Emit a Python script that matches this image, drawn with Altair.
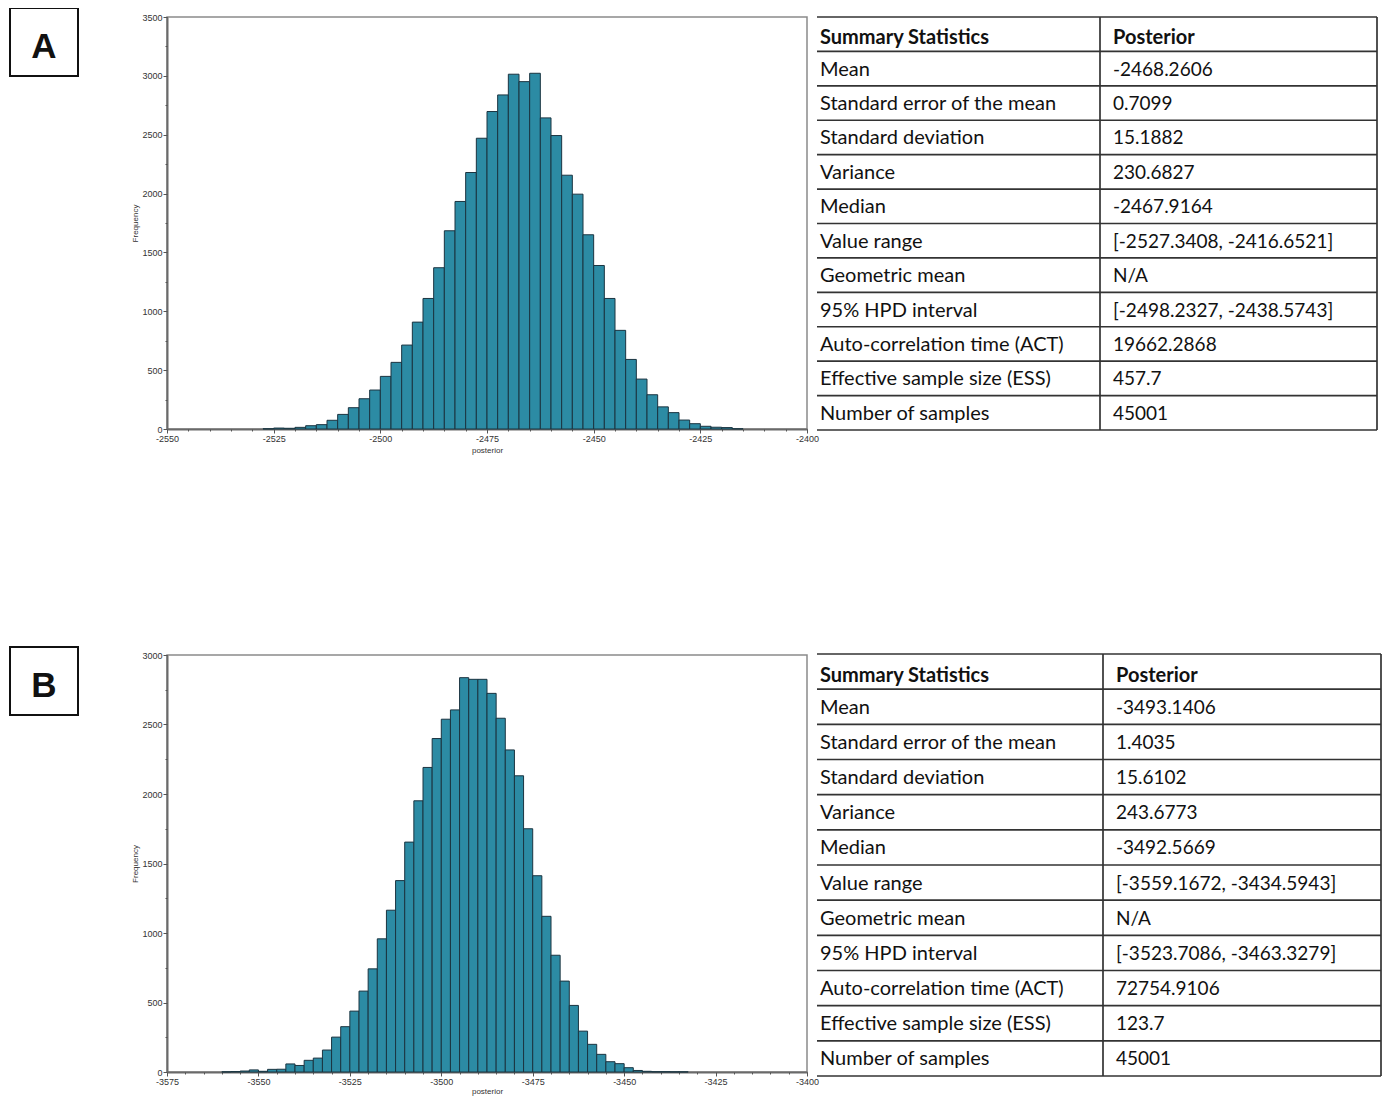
import altair as alt
import pandas as pd

# ---------------- data ----------------
BIN_WIDTH = 2.5

A_FIRST_BIN = -2527.5
A_COUNTS = [2, 8, 6, 14, 28, 37, 74, 124, 181, 257, 331, 447, 566, 713, 908, 1109,
            1370, 1684, 1933, 2179, 2470, 2697, 2838, 3014, 2951, 3022, 2643, 2493,
            2156, 1995, 1650, 1389, 1109, 838, 591, 424, 291, 188, 139, 76, 45, 23,
            15, 12, 2]

B_FIRST_BIN = -3560.0
B_COUNTS = [1, 3, 7, 15, 5, 19, 20, 58, 47, 84, 100, 158, 251, 326, 438, 582, 742,
            958, 1164, 1377, 1654, 1951, 2191, 2399, 2538, 2605, 2837, 2825, 2825,
            2724, 2545, 2317, 2131, 1750, 1412, 1120, 840, 654, 479, 294, 199, 127,
            74, 60, 31, 11, 5, 2, 2, 1, 1]

A_X_DOMAIN = [-2550, -2400]
A_Y_DOMAIN = [0, 3500]
B_X_DOMAIN = [-3575, -3400]
B_Y_DOMAIN = [0, 3000]

X_MAJOR_STEP = 25
X_MINOR_STEP = 5
Y_MAJOR_STEP = 500
Y_MINOR_STEP = 250

TABLE_HEADER = ["Summary Statistics", "Posterior"]
STAT_LABELS = [
    "Mean",
    "Standard error of the mean",
    "Standard deviation",
    "Variance",
    "Median",
    "Value range",
    "Geometric mean",
    "95% HPD interval",
    "Auto-correlation time (ACT)",
    "Effective sample size (ESS)",
    "Number of samples",
]
A_VALUES = [
    "-2468.2606",
    "0.7099",
    "15.1882",
    "230.6827",
    "-2467.9164",
    "[-2527.3408, -2416.6521]",
    "N/A",
    "[-2498.2327, -2438.5743]",
    "19662.2868",
    "457.7",
    "45001",
]
B_VALUES = [
    "-3493.1406",
    "1.4035",
    "15.6102",
    "243.6773",
    "-3492.5669",
    "[-3559.1672, -3434.5943]",
    "N/A",
    "[-3523.7086, -3463.3279]",
    "72754.9106",
    "123.7",
    "45001",
]

# ---------------- styles ----------------
BAR_FILL = "#2c8ba4"
BAR_STROKE = "#1b3440"
AXIS_FONT = "Liberation Sans"
TABLE_FONT = "Lato"
LABEL_SIZE = 20
VALUE_SIZE = 19
LINE_COLOR = "#333333"
LABEL_EXPR = "'' + datum.value"


def panel(letter, first_bin, counts, xdom, ydom, width, height,
          box_top, tbl_left, tbl_div, tbl_right, tbl_top, tbl_bottom, values,
          title_pad):
    starts = [first_bin + i * BIN_WIDTH for i in range(len(counts))]
    df = pd.DataFrame({"start": starts, "count": counts})
    df["end"] = df["start"] + BIN_WIDTH

    xs = alt.Scale(domain=xdom, nice=False, zero=False)
    ys = alt.Scale(domain=ydom, nice=False, zero=True)
    x_major = list(range(xdom[0], xdom[1] + 1, X_MAJOR_STEP))
    x_minor = list(range(xdom[0], xdom[1] + 1, X_MINOR_STEP))
    y_major = list(range(ydom[0], ydom[1] + 1, Y_MAJOR_STEP))
    y_minor = list(range(ydom[0], ydom[1] + 1, Y_MINOR_STEP))

    bars = alt.Chart(df).mark_rect(
        fill=BAR_FILL, stroke=BAR_STROKE, strokeWidth=1, opacity=1
    ).encode(
        x=alt.X("start:Q", scale=xs,
                axis=alt.Axis(values=x_major, title="posterior", orient="bottom",
                              grid=False, tickSize=4, labelPadding=1,
                              titlePadding=title_pad, labelFlush=False,
                              labelExpr=LABEL_EXPR)),
        x2="end:Q",
        y=alt.Y("count:Q", scale=ys,
                axis=alt.Axis(values=y_major, title="Frequency", orient="left",
                              grid=False, tickSize=4, labelPadding=1,
                              titlePadding=2, labelFlush=False,
                              labelExpr=LABEL_EXPR)),
        y2=alt.datum(0),
    )

    minor = alt.Chart(df).mark_point(opacity=0).encode(
        x=alt.X("start:Q", scale=xs,
                axis=alt.Axis(values=x_minor, labels=False, title=None,
                              orient="bottom", domain=False, grid=False,
                              tickSize=2)),
        y=alt.Y("count:Q", scale=ys,
                axis=alt.Axis(values=y_minor, labels=False, title=None,
                              orient="left", domain=False, grid=False,
                              tickSize=2)),
    )

    one = pd.DataFrame({"t": [letter]})
    box = alt.Chart(one).mark_rect(
        fill="white", stroke="#111", strokeWidth=2
    ).encode(
        x=alt.value(-157), x2=alt.value(-89),
        y=alt.value(box_top), y2=alt.value(box_top + 68),
    )
    box_text = alt.Chart(one).mark_text(
        font=AXIS_FONT, fontSize=35, fontWeight="bold", color="#111",
        align="center", baseline="alphabetic"
    ).encode(
        x=alt.value(-123), y=alt.value(box_top + 50), text="t:N",
    )

    nrows = len(STAT_LABELS) + 1
    tscale = alt.Scale(domain=[0, nrows], range=[tbl_top, tbl_bottom], nice=False,
                       zero=False)
    lines = pd.DataFrame({"b": list(range(nrows + 1))})
    hrules = alt.Chart(lines).mark_rule(color=LINE_COLOR, strokeWidth=1.7).encode(
        y=alt.Y("b:Q", scale=tscale, axis=None),
        x=alt.value(tbl_left - 2), x2=alt.value(tbl_right),
    )
    vr = pd.DataFrame({"c": ["div", "right"]})
    vdiv = alt.Chart(vr.iloc[:1]).mark_rule(color=LINE_COLOR, strokeWidth=1.7).encode(
        x=alt.value(tbl_div), y=alt.value(tbl_top), y2=alt.value(tbl_bottom),
    )
    vright = alt.Chart(vr.iloc[1:]).mark_rule(color=LINE_COLOR, strokeWidth=1.7).encode(
        x=alt.value(tbl_right), y=alt.value(tbl_top), y2=alt.value(tbl_bottom),
    )

    head = pd.DataFrame({"row": [0.62], "label": [TABLE_HEADER[0]],
                         "value": [TABLE_HEADER[1]]})
    body = pd.DataFrame({"row": [i + 1.53 for i in range(len(STAT_LABELS))],
                         "label": STAT_LABELS, "value": values})

    def txt(data, field, xpos, weight, size):
        return alt.Chart(data).mark_text(
            font=TABLE_FONT, fontSize=size, fontWeight=weight,
            color="#111", align="left", baseline="middle"
        ).encode(
            x=alt.value(xpos),
            y=alt.Y("row:Q", scale=tscale, axis=None),
            text=f"{field}:N",
        )

    layers = [
        bars, minor, box, box_text, hrules, vdiv, vright,
        txt(head, "label", tbl_left + 1, "bold", LABEL_SIZE),
        txt(head, "value", tbl_div + 13, "bold", LABEL_SIZE),
        txt(body, "label", tbl_left + 1, "normal", LABEL_SIZE),
        txt(body, "value", tbl_div + 13, "normal", VALUE_SIZE),
    ]
    return alt.layer(*layers).resolve_scale(y="independent").resolve_axis(
        x="independent", y="independent"
    ).properties(width=width, height=height)


rowA = panel("A", A_FIRST_BIN, A_COUNTS, A_X_DOMAIN, A_Y_DOMAIN, 640, 412,
             box_top=-9, tbl_left=652, tbl_div=933, tbl_right=1210,
             tbl_top=0, tbl_bottom=413, values=A_VALUES, title_pad=3)
rowB = panel("B", B_FIRST_BIN, B_COUNTS, B_X_DOMAIN, B_Y_DOMAIN, 640, 417,
             box_top=-8, tbl_left=652, tbl_div=936, tbl_right=1214,
             tbl_top=-1, tbl_bottom=421, values=B_VALUES, title_pad=1)

chart = alt.vconcat(rowA, rowB, spacing=190).properties(
    padding={"left": 0, "top": -2, "right": 0, "bottom": 0},
    background="white",
).configure_view(
    stroke="#8a8a8a", strokeWidth=1.5
).configure_axis(
    labelFont=AXIS_FONT, labelFontSize=9, labelColor="#333",
    titleFont=AXIS_FONT, titleFontSize=8, titleFontWeight="normal",
    titleColor="#333", tickColor="#555", domainColor="#6a6a6a",
    domainWidth=2, tickWidth=1,
)

chart.save("out.html", embed_options={"renderer": "svg", "actions": False})
